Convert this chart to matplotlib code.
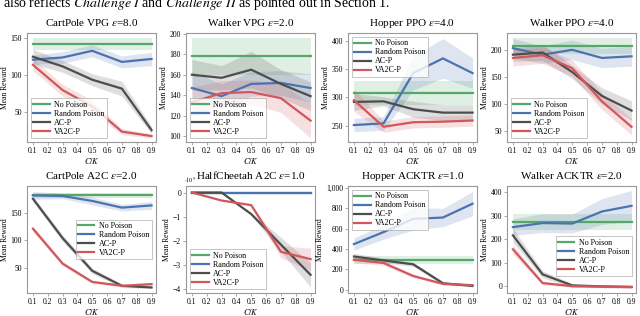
import matplotlib
matplotlib.use("Agg")
import matplotlib.pyplot as plt
from matplotlib.ticker import FuncFormatter

plt.rcParams['font.family'] = ['Liberation Serif', 'DejaVu Serif']
plt.rcParams['mathtext.fontset'] = 'stix'

x = [0.1, 0.3, 0.5, 0.7, 0.9]
series = ["No Poison", "Random Poison", "AC-P", "VA2C-P"]
colors = ["#55a868", "#4c72b0", "#4d4d4d", "#d1575c"]

titles = [r"CartPole VPG $\epsilon$=8.0", r"Walker VPG $\epsilon$=2.0",
          r"Hopper PPO $\epsilon$=4.0", r"Walker PPO $\epsilon$=4.0",
          r"CartPole A2C $\epsilon$=2.0", r"HalfCheetah A2C $\epsilon$=1.0",
          r"Hopper ACKTR $\epsilon$=1.0", r"Walker ACKTR $\epsilon$=2.0"]

# means per panel: [No Poison, Random Poison, AC-P, VA2C-P]
cartpole_vpg_mean = [[142]*5, [121, 124, 133, 118, 122], [125, 112, 94, 82, 26], [114, 80, 58, 24, 18]]
cartpole_vpg_err = [[8]*5, [6, 8, 8, 8, 9], [10, 8, 8, 10, 5], [8, 8, 8, 4, 3]]
walker_vpg_mean = [[178]*5, [147, 139, 151, 152, 147], [160, 157, 165, 151, 139], [133, 142, 143, 137, 115]]
walker_vpg_err = [[18]*5, [16, 12, 12, 12, 14], [15, 12, 18, 14, 14], [15, 12, 12, 14, 17]]
hopper_ppo_mean = [[308]*5, [251, 254, 343, 369, 343], [292, 293, 279, 273, 273], [295, 248, 256, 257, 259]]
hopper_ppo_err = [[21]*5, [12, 12, 30, 35, 27], [15, 8, 14, 14, 14], [20, 10, 10, 10, 10]]
walker_ppo_mean = [[207]*5, [203, 191, 200, 185, 188], [191, 195, 159, 115, 88], [185, 190, 166, 105, 58]]
walker_ppo_err = [[14]*5, [18, 16, 18, 18, 18], [12, 15, 12, 15, 18], [15, 15, 15, 15, 15]]
cartpole_a2c_mean = [[181]*5, [181, 180, 171, 159, 163], [175, 104, 45, 18, 15], [121, 58, 25, 18, 21]]
cartpole_a2c_err = [[5]*5, [7, 5, 7, 6, 7], [5, 6, 5, 3, 2], [5, 4, 3, 2, 2]]
halfcheetah_a2c_mean = [[0]*5, [0]*5, [0, 0, -0.89e5, -2.15e5, -3.4e5], [0, -0.33e5, -0.52e5, -2.45e5, -2.75e5]]
halfcheetah_a2c_err = [[0]*5, [0]*5, [0, 0, 0.05e5, 0.3e5, 0.5e5], [0, 0.02e5, 0.05e5, 0.25e5, 0.45e5]]
hopper_acktr_mean = [[290]*5, [449, 567, 697, 710, 846], [327, 288, 250, 64, 38], [295, 263, 135, 58, 45]]
hopper_acktr_err = [[40]*5, [60, 70, 110, 90, 120], [30, 25, 20, 15, 10], [30, 25, 15, 10, 8]]
walker_acktr_mean = [[272]*5, [251, 268, 266, 317, 341], [216, 51, 4, 0, -2], [157, 14, 1, -1, -3]]
walker_acktr_err = [[35]*5, [35, 40, 40, 55, 65], [30, 15, 8, 5, 5], [20, 8, 5, 5, 5]]

means = [cartpole_vpg_mean, walker_vpg_mean, hopper_ppo_mean, walker_ppo_mean,
         cartpole_a2c_mean, halfcheetah_a2c_mean, hopper_acktr_mean, walker_acktr_mean]
errs = [cartpole_vpg_err, walker_vpg_err, hopper_ppo_err, walker_ppo_err,
        cartpole_a2c_err, halfcheetah_a2c_err, hopper_acktr_err, walker_acktr_err]

ylims = [(10, 157), (94, 201), (221, 414), (30, 231), (5, 198), (-4.15e5, 0.27e5), (-32, 1020), (-28, 425)]
yticks = [[50, 100, 150], [100, 120, 140, 160, 180, 200], [250, 300, 350, 400], [50, 100, 150, 200],
          [50, 100, 150], [-4e5, -3e5, -2e5, -1e5, 0], [0, 200, 400, 600, 800, 1000], [0, 100, 200, 300, 400]]
legend_locs = [dict(loc="lower left"), dict(loc="lower left"), dict(loc="upper left"), dict(loc="lower left"),
               dict(loc="center right"), dict(loc="lower left"), dict(loc="upper left"),
               dict(loc="lower right", bbox_to_anchor=(1.0, 0.12))]


def cheetah_fmt(v, p):
    n = int(round(v / 1e5))
    return "%d" % n if n >= 0 else "\u2212%d" % abs(n)


W, H = 640, 316
fig = plt.figure(figsize=(6.4, 3.16), dpi=100)
lefts = [27, 186, 348, 507]
rows = [(33, 142), (186, 293)]
aw = 129

for i in range(8):
    r, c = divmod(i, 4)
    top, bot = rows[r]
    ax = fig.add_axes([lefts[c] / W, 1 - bot / H, aw / W, (bot - top) / H])
    for k in range(4):
        m = means[i][k]
        e = errs[i][k]
        lo = [a - b for a, b in zip(m, e)]
        hi = [a + b for a, b in zip(m, e)]
        ax.fill_between(x, lo, hi, color=colors[k], alpha=0.18, lw=0)
        ax.plot(x, m, color=colors[k], lw=1.6, label=series[k])
    ax.set_xlim(0.06, 0.93)
    ax.set_ylim(*ylims[i])
    ax.set_xticks([0.1, 0.2, 0.3, 0.4, 0.5, 0.6, 0.7, 0.8, 0.9])
    ax.set_yticks(yticks[i])
    if i == 5:
        ax.yaxis.set_major_formatter(FuncFormatter(cheetah_fmt))
        ax.text(-0.015, 1.01, r"$\cdot10^5$", transform=ax.transAxes, fontsize=4.5, ha="left", va="bottom")
    elif i == 6:
        ax.yaxis.set_major_formatter(FuncFormatter(lambda v, p: "{:,}".format(int(v))))
    ax.tick_params(labelsize=5.5, length=2, width=0.5, color="#888888", pad=1.5)
    for s in ax.spines.values():
        s.set_color("#999999")
        s.set_linewidth(0.8)
    ax.set_title(titles[i], fontsize=8, pad=5)
    ax.set_ylabel("Mean Reward", fontsize=5.5, labelpad=1.5)
    ax.set_xlabel(r"$C/K$", fontsize=6, labelpad=0.5)
    leg = ax.legend(fontsize=5.8, frameon=True, fancybox=False, handlelength=2.0,
                    borderpad=0.3, labelspacing=0.12, handletextpad=0.6, **legend_locs[i])
    leg.get_frame().set_edgecolor("#aaaaaa")
    leg.get_frame().set_linewidth(0.6)

fig.text(3 / W, 1 - 7.5 / H,
         r"also reflects $\mathit{Challenge\ I}$ and $\mathit{Challenge\ II}$ as pointed out in Section 1.",
         fontsize=10, ha="left", va="baseline")

fig.savefig("out.png", dpi=100)
